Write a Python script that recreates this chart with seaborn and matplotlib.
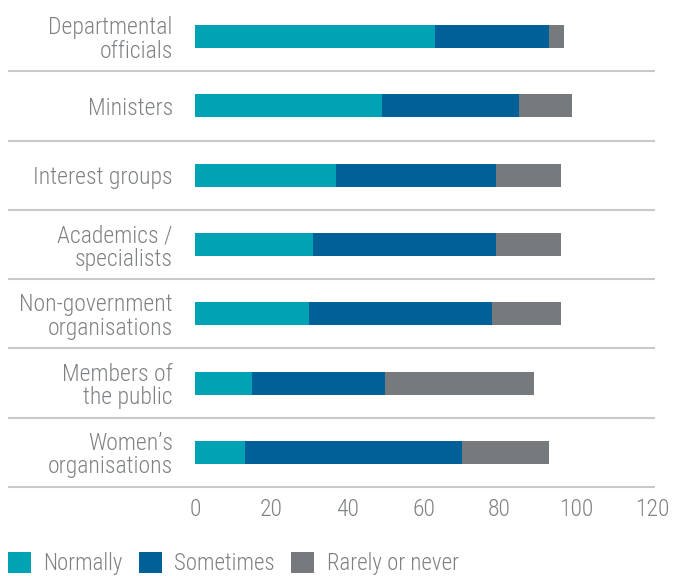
import numpy as np
import pandas as pd
import matplotlib
matplotlib.use("Agg")
import matplotlib.pyplot as plt
from matplotlib.patches import Patch
import seaborn as sns

categories = ["Departmental\nofficials", "Ministers", "Interest groups",
              "Academics /\nspecialists", "Non-government\norganisations",
              "Members of\nthe public", "Women’s\norganisations"]
normally = [63, 49, 37, 31, 30, 15, 13]
sometimes = [30, 36, 42, 48, 48, 35, 57]
rarely = [4, 14, 17, 17, 18, 39, 23]
series_names = ["Normally", "Sometimes", "Rarely or never"]
colors = ["#00A3B4", "#006098", "#777A7D"]
xticks = [0, 20, 40, 60, 80, 100, 120]

sns.set_style("white")
plt.rcParams['font.family'] = ['Roboto Condensed', 'DejaVu Sans']
plt.rcParams['font.weight'] = 'light'
text_col = "#7f8285"
FS = 17

fig = plt.figure(figsize=(6.81, 5.76), dpi=100)
ax = fig.add_axes([195/681, 1-487/576, (652-195)/681, (487-2)/576])

c1 = np.array(normally)
c2 = c1 + np.array(sometimes)
c3 = c2 + np.array(rarely)
df = pd.DataFrame({"cat": categories, "c1": c1, "c2": c2, "c3": c3})

for col, color in zip(["c3", "c2", "c1"], colors[::-1]):
    sns.barplot(data=df, y="cat", x=col, orient="h", color=color,
                width=0.33, saturation=1, linewidth=0, ax=ax)

ax.set_xlim(0, 120)
ax.set_ylim(6.5, -0.5)
ax.set_xticks(xticks)
ax.set_xticklabels([str(t) for t in xticks])
ax.set_xlabel("")
ax.set_ylabel("")
for s in ax.spines.values():
    s.set_visible(False)
ax.tick_params(axis="both", length=0, labelsize=FS, labelcolor=text_col)
ax.tick_params(axis="y", pad=16)
ax.tick_params(axis="x", pad=8)
for lab in ax.get_yticklabels() + ax.get_xticklabels():
    lab.set_fontweight("light")
for lab in ax.get_yticklabels():
    lab.set_horizontalalignment("right")
    lab.set_linespacing(1.03)

# separator lines spanning label area
x0 = (8 - 195) / 457
x1 = (655 - 195) / 457
ax.hlines([i + 0.5 for i in range(len(categories))], x0, x1,
          transform=ax.get_yaxis_transform(), colors="#c8c9ca",
          linewidth=1.5, clip_on=False)

handles = [Patch(facecolor=c, edgecolor="none") for c in colors]
leg = fig.legend(handles, series_names, loc="lower left",
                 bbox_to_anchor=(-6/681, -0.023), ncol=3, frameon=False,
                 fontsize=16.5, labelcolor=text_col, handlelength=1.0,
                 handleheight=1.0, handletextpad=0.55, columnspacing=0.7,
                 borderaxespad=0.2)
for t in leg.get_texts():
    t.set_fontweight("light")

fig.savefig("out.png", dpi=100)
